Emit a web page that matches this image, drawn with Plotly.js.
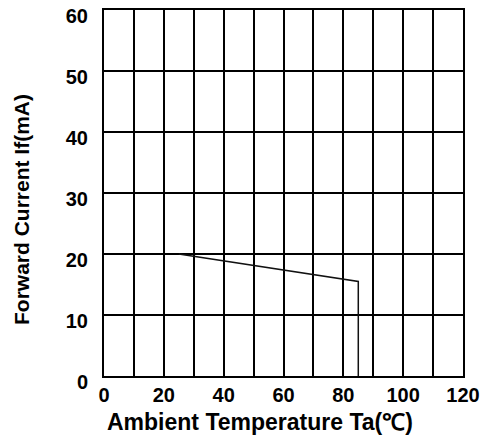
<!DOCTYPE html>
<html><head><meta charset="utf-8">
<script src="https://cdn.plot.ly/plotly-3.0.1.min.js"></script>
<style>html,body{margin:0;padding:0;background:#fff}#c{width:486px;height:440px}</style>
</head><body><div id="c"></div>
<script>
const tempX = [25, 85, 85];
const currentY = [20, 15.5, 0];
const xTicks = [0, 20, 40, 60, 80, 100, 120];
const yTicks = [0, 10, 20, 30, 40, 50, 60];
const xTitle = 'Ambient Temperature Ta(℃)';
const yTitle = 'Forward Current If(mA)';

const fam = 'Liberation Sans, Arial, sans-serif';
const tickFont = {family: fam, size: 20, color: '#000', weight: 900};
const data = [{x: tempX, y: currentY, mode: 'lines', line: {color: '#111', width: 1.5}, hoverinfo: 'skip'}];
const layout = {
  width: 486, height: 440,
  margin: {l: 104, r: 23, t: 10, b: 64},
  paper_bgcolor: '#fff', plot_bgcolor: '#fff',
  showlegend: false,
  xaxis: {range: [0, 120], tickvals: xTicks, ticktext: xTicks.map(String),
    showgrid: true, gridcolor: '#000', gridwidth: 2,
    minor: {dtick: 10, tick0: 0, showgrid: true, gridcolor: '#000', gridwidth: 2},
    showline: true, linecolor: '#000', linewidth: 2, mirror: true,
    ticks: '', zeroline: false, tickfont: tickFont, ticklabelstandoff: 0, ticklabeloverflow: 'allow'},
  yaxis: {range: [0, 60], tickvals: yTicks, ticktext: yTicks.map(String),
    showgrid: true, gridcolor: '#000', gridwidth: 2,
    showline: true, linecolor: '#000', linewidth: 2, mirror: true,
    ticks: '', zeroline: false, tickfont: tickFont, ticklabelstandoff: 10,
    ticklabeloverflow: 'allow', ticklabelshift: 6},
  annotations: [
    {text: xTitle, xref: 'paper', yref: 'paper', x: 0.435, y: -0.126, xanchor: 'center', yanchor: 'middle', showarrow: false,
     font: {family: fam, size: 23, color: '#000', weight: 900}},
    {text: yTitle, xref: 'paper', yref: 'paper', x: -0.228, y: 0.454, xanchor: 'center', yanchor: 'middle', showarrow: false, textangle: -90,
     font: {family: fam, size: 21, color: '#000', weight: 900}}
  ]
};
Plotly.newPlot('c', data, layout, {staticPlot: true, displayModeBar: false});
</script></body></html>
